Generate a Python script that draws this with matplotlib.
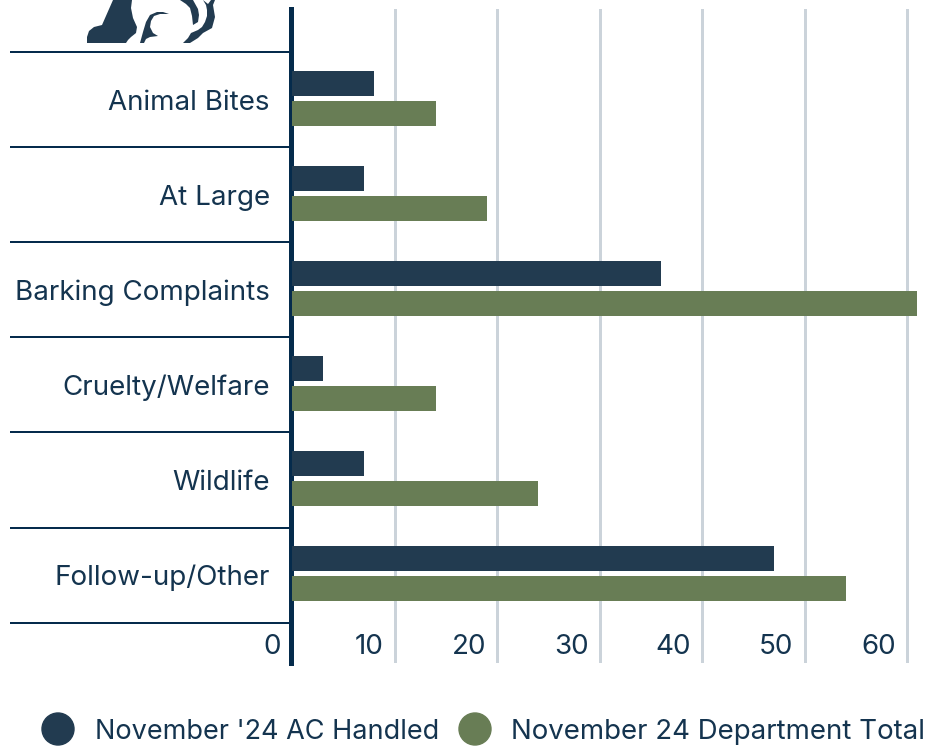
import matplotlib
matplotlib.use('Agg')
import matplotlib.pyplot as plt
from matplotlib.patches import Polygon, Circle
from matplotlib.transforms import ScaledTranslation
import numpy as np

categorias = ['Animal Bites', 'At Large', 'Barking Complaints', 'Cruelty/Welfare', 'Wildlife', 'Follow-up/Other']
ac_handled = [8, 7, 36, 3, 7, 47]
dept_total = [14, 19, 61, 14, 24, 54]
ticks_x = [0, 10, 20, 30, 40, 50, 60]
nombres = ["November '24 AC Handled", 'November 24 Department Total']

azul = '#223b50'
verde = '#687d55'
linea = '#052b4c'
texto = '#14344f'
rejilla = '#cbd3da'

W, H = 944, 749
TAM = 20
plt.rcParams['font.family'] = ['Inter', 'DejaVu Sans']

fig = plt.figure(figsize=(W / 100, H / 100), dpi=100)
x0 = 292
ax = fig.add_axes([x0 / W, 1 - 663 / H, (W - x0) / W, (663 - 9) / H])

# 1 dato = 10.25 px, cada fila = 95 px
ax.set_xlim(0, (W - x0) / 10.25)
arriba = -(100 - 9) / 95
ax.set_ylim(arriba + 654 / 95, arriba)

y = np.arange(len(categorias))
ax.barh(y - 0.174, ac_handled, height=0.263, color=azul, zorder=5)
ax.barh(y + 0.142, dept_total, height=0.263, color=verde, zorder=5)

for t in ticks_x[1:]:
    ax.axvline(t, color=rejilla, lw=2.16, zorder=1)

for s in ['top', 'right', 'bottom']:
    ax.spines[s].set_visible(False)
ax.spines['left'].set_linewidth(3.6)
ax.spines['left'].set_color(linea)
ax.spines['left'].set_position(('outward', 1.08))
ax.spines['left'].set_zorder(4)

ax.set_yticks(y)
ax.set_yticklabels(categorias, fontsize=TAM, color=texto)
ax.tick_params(axis='y', length=0, pad=15)
ax.set_yticks(np.arange(len(categorias) + 1) - 0.5, minor=True)
ax.tick_params(axis='y', which='minor', length=202, width=1.44, color=linea)

# las etiquetas del eje x van dentro, a la izquierda de cada linea
ax.set_xticks(ticks_x)
ax.set_xticklabels(ticks_x, fontsize=TAM, color=texto, ha='right', va='center')
ax.tick_params(axis='x', length=0, pad=-11.5)
desplaza = ScaledTranslation(-11 / 100, 0, fig.dpi_scale_trans)
for etiqueta in ax.get_xticklabels():
    etiqueta.set_transform(etiqueta.get_transform() + desplaza)

# leyenda
for cx, col in [(58, azul), (475, verde)]:
    fig.add_artist(Circle((cx, H - 729), 16, transform=None, color=col))
fig.text(95 / W, 1 - 739 / H, nombres[0], fontsize=19.5, color=texto, va='baseline')
fig.text(511 / W, 1 - 739 / H, nombres[1], fontsize=19.9, color=texto, va='baseline')

# silueta del conejo, cortada por arriba
trozos = [
    [(87, 43), (87, 37), (89, 31), (94, 27), (102, 25), (113, 0), (132, 0), (131, 8), (133, 18), (137, 27),
     (136, 33), (131, 37), (128, 40), (126, 43)],
    [(140, 43), (143, 32), (146, 22), (150, 15), (157, 12), (163, 12), (169, 14), (160, 14), (154, 16), (151, 21),
     (150, 27), (153, 33), (158, 36), (150, 37), (146, 39), (144, 43)],
    [(180, 0), (186, 4), (190, 8), (192, 16), (193, 25), (198, 22), (199, 15), (198, 9), (193, 0)],
    [(203, 0), (206, 5), (207, 10), (207, 16), (205, 22), (202, 27), (198, 30), (191, 33), (188, 38), (183, 43),
     (190, 43), (198, 38), (203, 33), (212, 28), (215, 17), (213, 5), (215, 0), (211, 0), (208, 4)],
]
for trozo in trozos:
    fig.add_artist(Polygon([(a, H - b) for a, b in trozo], transform=None, color=azul, lw=0))

fig.savefig('out.png', dpi=100)
